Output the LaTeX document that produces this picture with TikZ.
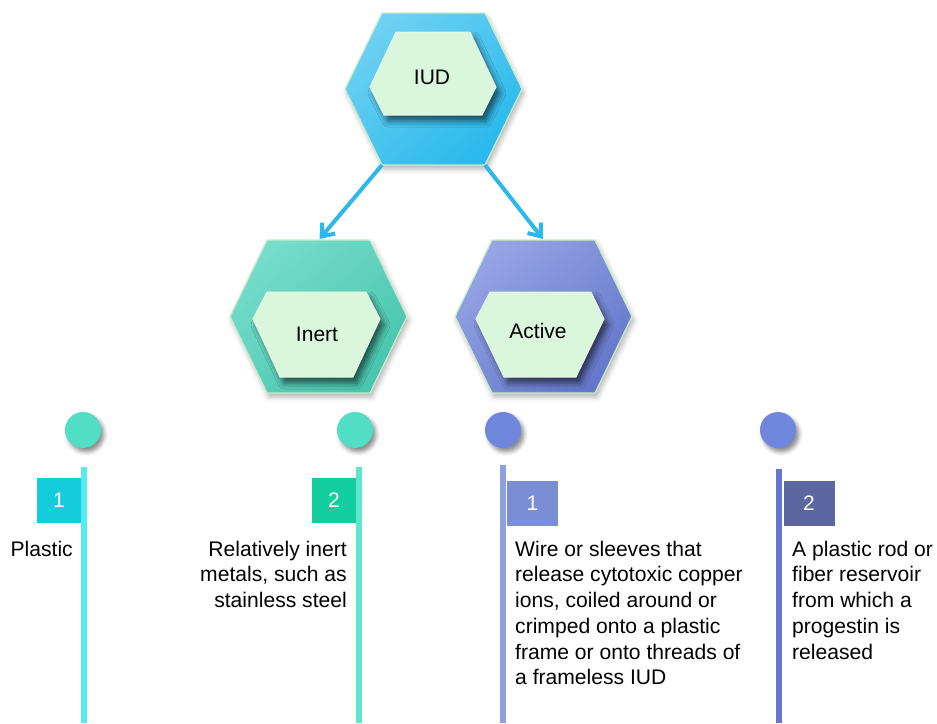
\documentclass[tikz,border=0pt]{standalone}
\usepackage{fontspec}
\setmainfont{Liberation Sans}
\usetikzlibrary{arrows.meta,shadows.blur}
\definecolor{iudA}{HTML}{6DD1F2}
\definecolor{iudB}{HTML}{29B9EC}
\definecolor{inertA}{HTML}{76DCCB}
\definecolor{inertB}{HTML}{48C5AD}
\definecolor{activeA}{HTML}{95A4E4}
\definecolor{activeB}{HTML}{6577CB}
\definecolor{hexborder}{HTML}{C9EDC9}
\definecolor{innerfill}{HTML}{DAF6DC}
\definecolor{innerborder}{HTML}{E6F8E6}
\definecolor{arrowcol}{HTML}{2CB8EC}
\definecolor{dotteal}{HTML}{52DDC5}
\definecolor{dotpurple}{HTML}{6E87DD}
\definecolor{lineA}{HTML}{57EBF1}
\definecolor{lineB}{HTML}{5DE6CB}
\definecolor{lineC}{HTML}{8DA0E2}
\definecolor{lineD}{HTML}{6577C8}
\definecolor{boxA}{HTML}{14CCDB}
\definecolor{boxB}{HTML}{13CE9E}
\definecolor{boxC}{HTML}{7A8ED6}
\definecolor{boxD}{HTML}{5A67A0}
\begin{document}
\begin{tikzpicture}[x=1pt,y=-1pt,
  outerhex/.style={draw=hexborder, line width=1.2pt,
    blur shadow={shadow xshift=2pt,shadow yshift=-4pt,shadow blur radius=5pt,shadow opacity=30}},
  innerhex/.style={draw=innerborder, line width=1pt, fill=innerfill,
    blur shadow={shadow xshift=4pt,shadow yshift=-6pt,shadow blur radius=6pt,shadow opacity=60}},
  hexlabel/.style={font=\fontsize{21}{24}\selectfont, inner sep=0pt},
  link/.style={draw=arrowcol, line width=4pt, -{Straight Barb[length=11pt,width=17pt]}},
  dot/.style={circle, minimum size=36pt, inner sep=0pt,
    blur shadow={shadow xshift=3pt,shadow yshift=-4pt,shadow blur radius=4pt,shadow opacity=45}},
  stem/.style={line width=6pt},
  numbox/.style={inner sep=0pt, minimum height=45pt, text=white,
    font=\fontsize{21}{24}\selectfont},
  desc/.style={inner sep=0pt, font=\fontsize{21.1}{25.7}\selectfont}
]
\useasboundingbox (0,0) rectangle (937,723);

% ---------- IUD hexagon ----------
\coordinate (iud-l)  at (345,89);
\coordinate (iud-tl) at (382,13);
\coordinate (iud-tr) at (485,13);
\coordinate (iud-r)  at (522,89);
\coordinate (iud-br) at (485,165);
\coordinate (iud-bl) at (382,165);
\path[outerhex, top color=iudA, bottom color=iudB, shading angle=40]
  (iud-l) -- (iud-tl) -- (iud-tr) -- (iud-r) -- (iud-br) -- (iud-bl) -- cycle;
\path[innerhex] (370,87) -- (396,32) -- (470,32) -- (496,87) -- (482,115) -- (384,115) -- cycle;
\node[hexlabel] (iud) at (432,77) {IUD};

% ---------- Inert hexagon ----------
\coordinate (inert-l)  at (230,316.5);
\coordinate (inert-tl) at (267,240);
\coordinate (inert-t)  at (319.5,239);
\coordinate (inert-tr) at (370,240);
\coordinate (inert-r)  at (407,316.5);
\coordinate (inert-br) at (370,393);
\coordinate (inert-bl) at (267,393);
\path[outerhex, top color=inertA, bottom color=inertB, shading angle=40]
  (inert-l) -- (inert-tl) -- (inert-tr) -- (inert-r) -- (inert-br) -- (inert-bl) -- cycle;
\path[innerhex] (253,319) -- (267,292) -- (366,292) -- (380,319) -- (353,377) -- (280,377) -- cycle;
\node[hexlabel] (inert) at (317,334) {Inert};

% ---------- Active hexagon ----------
\coordinate (active-l)  at (455,316.5);
\coordinate (active-tl) at (492,240);
\coordinate (active-t)  at (543,239);
\coordinate (active-tr) at (595,240);
\coordinate (active-r)  at (632,316.5);
\coordinate (active-br) at (595,393);
\coordinate (active-bl) at (492,393);
\path[outerhex, top color=activeA, bottom color=activeB, shading angle=40]
  (active-l) -- (active-tl) -- (active-tr) -- (active-r) -- (active-br) -- (active-bl) -- cycle;
\path[innerhex] (476,319) -- (490,292) -- (591,292) -- (604,319) -- (576,377) -- (504,377) -- cycle;
\node[hexlabel] (active) at (538,330.5) {Active};

% ---------- arrows ----------
\draw[link] (iud-bl) -- (inert-t);
\draw[link] (iud-br) -- (active-t);

% ---------- dots ----------
\node[dot, fill=dotteal]   (d1) at (83,430)  {};
\node[dot, fill=dotteal]   (d2) at (355,430) {};
\node[dot, fill=dotpurple] (d3) at (503,430) {};
\node[dot, fill=dotpurple] (d4) at (778,430) {};

% ---------- stems ----------
\coordinate (s1t) at (84,467);  \coordinate (s1b) at (84,723);
\coordinate (s2t) at (359,467); \coordinate (s2b) at (359,723);
\coordinate (s3t) at (503,465); \coordinate (s3b) at (503,723);
\coordinate (s4t) at (779,469); \coordinate (s4b) at (779,723);
\draw[stem, lineA] (s1t) -- (s1b);
\draw[stem, lineB] (s2t) -- (s2b);
\draw[stem, lineC] (s3t) -- (s3b);
\draw[stem, lineD] (s4t) -- (s4b);

% ---------- number boxes ----------
\node[numbox, fill=boxA, minimum width=44pt] (n1) at (59,500.5) {1};
\node[numbox, fill=boxB, minimum width=44pt] (n2) at (334,500.5) {2};
\node[numbox, fill=boxC, minimum width=51pt] (n3) at (532.5,503) {1};
\node[numbox, fill=boxD, minimum width=51pt] (n4) at (809,503) {2};

% ---------- descriptions ----------
\node[desc, anchor=north east, align=right] (t1) at (73,540.8) {Plastic};
\node[desc, anchor=north east, align=right] (t2) at (347,540.8)
  {Relatively inert\\metals, such as\\stainless steel};
\node[desc, anchor=north west, align=left] (t3) at (515,540.8)
  {Wire or sleeves that\\release cytotoxic copper\\ions, coiled around or\\crimped onto a plastic\\frame or onto threads of\\a frameless IUD};
\node[desc, anchor=north west, align=left] (t4) at (792,540.8)
  {A plastic rod or\\fiber reservoir\\from which a\\progestin is\\released};
\end{tikzpicture}
\end{document}
